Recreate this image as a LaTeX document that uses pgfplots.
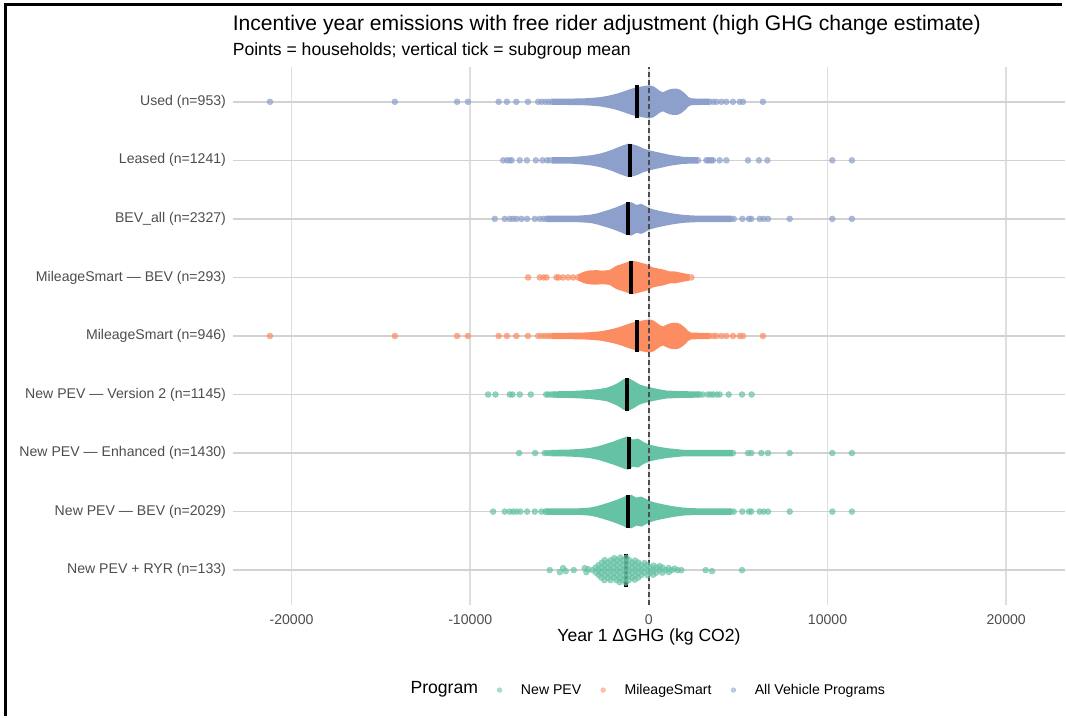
\documentclass[border=0pt]{standalone}
\usepackage{fontspec}
\setmainfont{Liberation Sans}
\usepackage{pgfplots}
\pgfplotsset{compat=1.18}
\usepackage{pgfplotstable}
\usepgfplotslibrary{fillbetween}

\definecolor{cNew}{HTML}{66C2A5}
\definecolor{cMS}{HTML}{FC8D62}
\definecolor{cAll}{HTML}{8DA0CB}
\definecolor{g30}{HTML}{4D4D4D}
\definecolor{gridv}{HTML}{DEDEDE}
\definecolor{gridh}{HTML}{D2D2D2}

% core profiles: x, half-height (px)
\pgfplotstableread{
x h
-5450 3.2
-4600 3.2
-3700 3.4
-3300 3.8
-2750 4.6
-2300 6
-1820 8
-1400 10.5
-1074 12.5
-800 14
-515 15
-200 16
45 16.5
250 15.5
420 13.5
600 11
790 9.5
950 11
1163 12.5
1400 13.3
1600 13
1750 12
1910 10
2100 7
2190 5
2375 3.4
2800 3.2
3400 3.2
}\Pused
\pgfplotstableread{
x d
-21210 0
-14220 0
-10735 0
-10130 0
-8410 0
-7950 0
-7420 0
-6770 0
-6200 0
-6000 0
-5800 0
-5620 0
-5450 0
3400 0
3600 0
3776 0
4055 0
4335 0
4705 0
5080 0
5265 0
6380 0
}\Tused

\pgfplotstableread{
x h
-5450 3.2
-4430 3.2
-3685 4.2
-3200 5.2
-2752 6.7
-2400 8.5
-2007 11
-1700 13.3
-1447 15
-1167 16.7
-900 16
-701 15
-500 13.5
-328 12
45 10
400 8.5
790 7
1163 5.5
1536 4.5
1900 3.6
2450 3.2
2750 3.2
}\Pleased
\pgfplotstableread{
x d
-8160 0
-7950 0
-7800 0
-7680 0
-7230 0
-6830 0
-6330 0
-5960 0
-5700 0
-5550 0
2750 0
3215 0
3300 0
3400 0
3500 0
3587 0
3960 0
4335 0
5545 0
6160 0
6630 0
10265 0
11360 0
}\Tleased

\pgfplotstableread{
x h
-5734 3.2
-4056 3.2
-3312 4
-2900 5.5
-2566 7.3
-2200 9.3
-1820 11.7
-1500 14
-1260 16
-980 16.7
-800 15
-700 14
-420 15
-200 13
45 10.7
400 8.8
790 7.3
1300 5.5
1908 4
2500 3.4
3027 3.2
4600 3.2
}\Pbev
\pgfplotstableread{
x d
-8626 0
-8067 0
-7787 0
-7600 0
-7414 0
-7133 0
-6818 0
-6388 0
-6109 0
-5900 0
-5734 0
4600 0
4750 0
5230 0
5600 0
5730 0
6200 0
6420 0
6665 0
7880 0
10265 0
11360 0
}\Tbevall
\pgfplotstableread{
x d
-8720 0
-8067 0
-7787 0
-7600 0
-7414 0
-7200 0
-6818 0
-6388 0
-6015 0
-5800 0
-5734 0
4600 0
4750 0
5230 0
5600 0
5730 0
6200 0
6420 0
6665 0
7880 0
10265 0
11360 0
}\Tbevnew

\pgfplotstableread{
x h
-3965 3.2
-3800 4.5
-3591 6
-3312 7
-2937 7.3
-2600 6.7
-2193 7.5
-1820 11.7
-1500 13.5
-1260 15
-980 16.7
-700 16
-515 15
-140 13.3
229 10
500 9
790 8
1163 6
1450 6
1723 5
2000 4
2282 3.2
}\Pmsbev
\pgfplotstableread{
x d
-6762 0
-6109 0
-5900 0
-5734 0
-5175 0
-5050 0
-4804 0
-4524 0
-4245 0
-3965 0
2375 0
}\Tmsbev

\pgfplotstableread{
x h
-5365 3.2
-4500 3.4
-3800 4
-3312 4.5
-2800 5.5
-2380 6.7
-2100 8.5
-1820 10.7
-1600 13
-1447 15
-1225 16.7
-1050 15.5
-889 14
-700 12
-515 10
-250 8.5
45 7.3
500 5.5
977 4
1908 3.3
2840 3.2
}\Pvtwo
\pgfplotstableread{
x d
-9000 0
-8588 0
-7787 0
-7637 0
-7227 0
-6612 0
-5750 0
-5650 0
-5500 0
-5365 0
2840 0
3000 0
3300 0
3450 0
3600 0
3800 0
3960 0
4464 0
5210 0
5750 0
}\Tvtwo

\pgfplotstableread{
x h
-5450 3.2
-4430 3.5
-3800 4.2
-3312 5
-2800 7
-2380 9.3
-2000 11.5
-1633 14
-1400 15.5
-1167 16.7
-900 13.5
-600 14.5
-300 11
45 8.3
500 6.5
977 5
1908 3.3
3027 3.2
4705 3.2
}\Penh
\pgfplotstableread{
x d
-7266 0
-6370 0
-5830 0
-5700 0
-5550 0
-5450 0
4705 0
5545 0
5731 0
6290 0
6665 0
7876 0
10265 0
11360 0
}\Tenh

% New PEV + RYR: individual households, x and vertical offset (px)
\pgfplotstableread{
x d
-5549 0
-4990 -2
-4804 2
-4655 -1
-4207 0
-3592 2
-3498 -2
-3405 1
-3150 0
-2980 2.5
-2960 -2.5
-2810 0
-2820 5
-2800 -5
-2640 2.5
-2650 -2.5
-2630 7.5
-2660 -7.5
-2470 0
-2480 5
-2460 -5
-2470 10
-2490 -10
-2300 2.5
-2310 -2.5
-2290 7.5
-2300 -7.5
-2130 0
-2140 5
-2120 -5
-2130 10
-2150 -10
-1960 2.5
-1970 -2.5
-1950 7.5
-1960 -7.5
-1940 12
-1790 0
-1800 5
-1780 -5
-1790 10
-1810 -10
-1620 2.5
-1630 -2.5
-1610 7.5
-1620 -7.5
-1600 12.5
-1640 -12
-1450 0
-1460 5
-1440 -5
-1450 10
-1470 -10
-1280 2.5
-1290 -2.5
-1270 7.5
-1280 -7.5
-1260 12.5
-1300 -12.5
-1110 0
-1120 5
-1100 -5
-1110 10
-1130 -10
-940 2.5
-950 -2.5
-930 7.5
-940 -7.5
-770 0
-780 5
-760 -5
-770 9.5
-790 -9.5
-600 2.5
-610 -2.5
-590 7.5
-600 -7.5
-430 0
-440 5
-420 -5
-260 2.5
-270 -2.5
-250 7
-90 0
-100 5
-80 -5
80 2.5
70 -2.5
250 0
260 4.5
240 -4.5
420 2.5
410 -2.5
590 0
600 4
760 2.5
750 -2.5
930 0
1100 2
1110 -2
1270 0
1440 1.5
1610 0
1817 0
3177 0
3532 -1
5210 0
}\Tryr

\pgfplotsset{
  core/.style={forget plot, draw=none, mark=none},
  pts/.style={forget plot, only marks, mark=*, mark size=3pt, color=#1, mark options={solid, draw=none, fill=#1}, opacity=0.7},
  meantick/.style={forget plot, black, line width=4pt, line cap=butt, mark=none},
}

\begin{document}
\begin{tikzpicture}
\path (0,0) rectangle (1066pt,716pt);
\begin{axis}[
  at={(232.7pt,110.5pt)}, anchor=south west,
  scale only axis, width=832.9pt, height=538.8pt,
  xmin=-23300, xmax=23300, ymin=0.4, ymax=9.6,
  scaled x ticks=false,
  xtick={-20000,-10000,0,10000,20000},
  xticklabels={-20000,-10000,0,10000,20000},
  ytick={1,2,3,4,5,6,7,8,9},
  yticklabels={New PEV + RYR (n=133),New PEV — BEV (n=2029),New PEV — Enhanced (n=1430),New PEV — Version 2 (n=1145),MileageSmart (n=946),MileageSmart — BEV (n=293),BEV\_all (n=2327),Leased (n=1241),Used (n=953)},
  xmajorgrids, ymajorgrids,
  major x grid style={color=gridv, line width=1.8pt},
  major y grid style={color=gridh, line width=1.6pt},
  axis line style={draw=none},
  tick style={draw=none},
  major tick length=0pt,
  yticklabel style={font=\fontsize{14.1}{16}\selectfont, text=g30, anchor=east, inner sep=0pt, xshift=-6.5pt},
  xticklabel style={font=\fontsize{14.1}{16}\selectfont, text=g30, anchor=north, inner sep=0pt, yshift=-9.5pt},
  legend style={at={(0.3178,-0.1574)}, anchor=west, draw=none, fill=none, inner sep=0pt, outer sep=0pt,
    font=\fontsize{14.1}{16}\selectfont, nodes={inner sep=0pt},
    /tikz/every odd column/.append style={column sep=19pt},
    /tikz/every even column/.append style={column sep=19.5pt}},
  legend columns=-1,
]
% ---- Used (9)
\addplot[core, name path=c9t] table[x=x, y expr={9+\thisrow{h}/58.6}] {\Pused};
\addplot[core, name path=c9b] table[x=x, y expr={9-\thisrow{h}/58.6}] {\Pused};
\addplot[forget plot, fill=cAll, draw=none] fill between[of=c9t and c9b];
\addplot[pts=cAll] table[x=x, y expr={9+\thisrow{d}/58.6}] {\Tused};
% ---- Leased (8)
\addplot[core, name path=c8t] table[x=x, y expr={8+\thisrow{h}/58.6}] {\Pleased};
\addplot[core, name path=c8b] table[x=x, y expr={8-\thisrow{h}/58.6}] {\Pleased};
\addplot[forget plot, fill=cAll, draw=none] fill between[of=c8t and c8b];
\addplot[pts=cAll] table[x=x, y expr={8+\thisrow{d}/58.6}] {\Tleased};
% ---- BEV_all (7)
\addplot[core, name path=c7t] table[x=x, y expr={7+\thisrow{h}/58.6}] {\Pbev};
\addplot[core, name path=c7b] table[x=x, y expr={7-\thisrow{h}/58.6}] {\Pbev};
\addplot[forget plot, fill=cAll, draw=none] fill between[of=c7t and c7b];
\addplot[pts=cAll] table[x=x, y expr={7+\thisrow{d}/58.6}] {\Tbevall};
% ---- MileageSmart BEV (6)
\addplot[core, name path=c6t] table[x=x, y expr={6+\thisrow{h}/58.6}] {\Pmsbev};
\addplot[core, name path=c6b] table[x=x, y expr={6-\thisrow{h}/58.6}] {\Pmsbev};
\addplot[forget plot, fill=cMS, draw=none] fill between[of=c6t and c6b];
\addplot[pts=cMS] table[x=x, y expr={6+\thisrow{d}/58.6}] {\Tmsbev};
% ---- MileageSmart (5)
\addplot[core, name path=c5t] table[x=x, y expr={5+\thisrow{h}/58.6}] {\Pused};
\addplot[core, name path=c5b] table[x=x, y expr={5-\thisrow{h}/58.6}] {\Pused};
\addplot[forget plot, fill=cMS, draw=none] fill between[of=c5t and c5b];
\addplot[pts=cMS] table[x=x, y expr={5+\thisrow{d}/58.6}] {\Tused};
% ---- New PEV Version 2 (4)
\addplot[core, name path=c4t] table[x=x, y expr={4+\thisrow{h}/58.6}] {\Pvtwo};
\addplot[core, name path=c4b] table[x=x, y expr={4-\thisrow{h}/58.6}] {\Pvtwo};
\addplot[forget plot, fill=cNew, draw=none] fill between[of=c4t and c4b];
\addplot[pts=cNew] table[x=x, y expr={4+\thisrow{d}/58.6}] {\Tvtwo};
% ---- New PEV Enhanced (3)
\addplot[core, name path=c3t] table[x=x, y expr={3+\thisrow{h}/58.6}] {\Penh};
\addplot[core, name path=c3b] table[x=x, y expr={3-\thisrow{h}/58.6}] {\Penh};
\addplot[forget plot, fill=cNew, draw=none] fill between[of=c3t and c3b];
\addplot[pts=cNew] table[x=x, y expr={3+\thisrow{d}/58.6}] {\Tenh};
% ---- New PEV BEV (2)
\addplot[core, name path=c2t] table[x=x, y expr={2+\thisrow{h}/58.6}] {\Pbev};
\addplot[core, name path=c2b] table[x=x, y expr={2-\thisrow{h}/58.6}] {\Pbev};
\addplot[forget plot, fill=cNew, draw=none] fill between[of=c2t and c2b];
\addplot[pts=cNew] table[x=x, y expr={2+\thisrow{d}/58.6}] {\Tbevnew};
% ---- New PEV + RYR (1)
\addplot[forget plot, only marks, mark=*, mark size=3pt, color=cNew, mark options={solid, draw=none, fill=cNew}, opacity=0.68] table[x=x, y expr={1+\thisrow{d}/58.6}] {\Tryr};

% zero line
\addplot[forget plot, color=g30, line width=1.4pt, dash pattern=on 5pt off 3pt, mark=none] coordinates {(0,0.4) (0,9.6)};

% subgroup means
\addplot[meantick] coordinates {(-640,8.72) (-640,9.28)};
\addplot[meantick] coordinates {(-1075,7.72) (-1075,8.28)};
\addplot[meantick] coordinates {(-1170,6.72) (-1170,7.28)};
\addplot[meantick] coordinates {(-1020,5.72) (-1020,6.28)};
\addplot[meantick] coordinates {(-640,4.72) (-640,5.28)};
\addplot[meantick] coordinates {(-1225,3.72) (-1225,4.28)};
\addplot[meantick] coordinates {(-1090,2.72) (-1090,3.28)};
\addplot[meantick] coordinates {(-1170,1.72) (-1170,2.28)};
\addplot[meantick] coordinates {(-1300,0.72) (-1300,1.28)};

% legend
\addlegendimage{only marks, mark=*, mark size=2.4pt, color=cNew, mark options={solid, draw=none, fill=cNew}, opacity=0.55}
\addlegendentry{New PEV}
\addlegendimage{only marks, mark=*, mark size=2.4pt, color=cMS, mark options={solid, draw=none, fill=cMS}, opacity=0.55}
\addlegendentry{MileageSmart}
\addlegendimage{only marks, mark=*, mark size=2.4pt, color=cAll, mark options={solid, draw=none, fill=cAll}, opacity=0.55}
\addlegendentry{All Vehicle Programs}
\end{axis}
\node[anchor=base west, inner sep=0pt, font=\fontsize{21.1}{25}\selectfont] at (232.7pt,685.4pt) {Incentive year emissions with free rider adjustment (high GHG change estimate)};
\node[anchor=base west, inner sep=0pt, font=\fontsize{17.6}{21}\selectfont] at (232.7pt,660.7pt) {Points = households; vertical tick = subgroup mean};
\node[anchor=base, inner sep=0pt, font=\fontsize{17.6}{21}\selectfont] at (649.2pt,74pt) {Year 1 ΔGHG (kg CO2)};
\node[anchor=base west, inner sep=0pt, font=\fontsize{17.6}{21}\selectfont] at (410.5pt,22pt) {Program};
\draw[line width=3pt] (6pt,0pt) -- (6pt,711pt) -- (1062pt,711pt);
\end{tikzpicture}
\end{document}
